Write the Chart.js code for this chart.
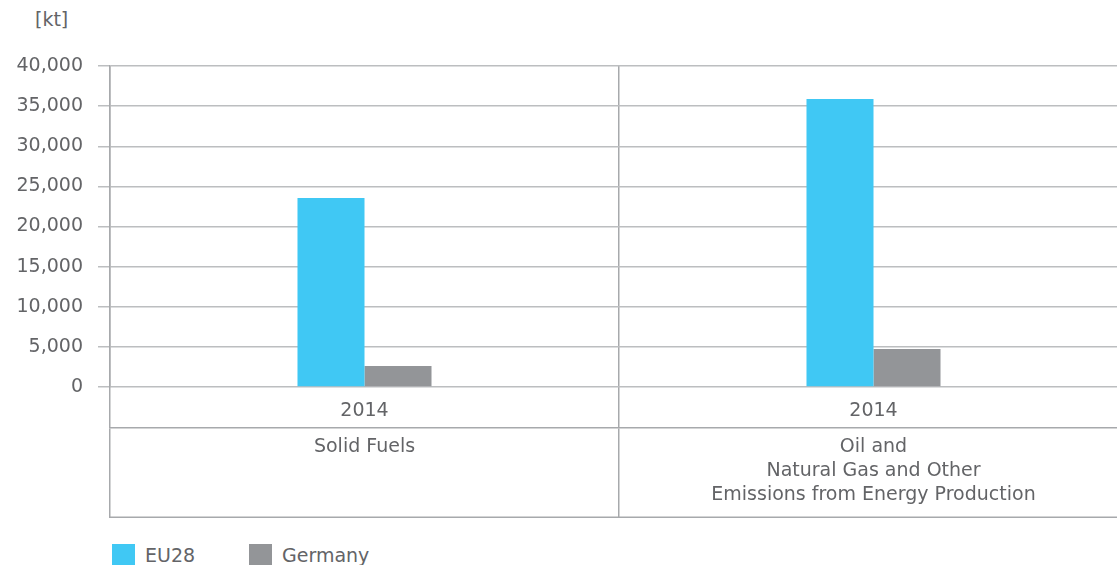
<!DOCTYPE html>
<html>
<head>
<meta charset="utf-8">
<script src="https://cdn.jsdelivr.net/npm/chart.js@4.4.1/dist/chart.umd.min.js"></script>
<style>
    html, body { margin: 0; padding: 0; overflow: hidden; background: #fff; }
    .wrap { position: relative; width: 1128px; height: 565px; font-family: 'DejaVu Sans', sans-serif; color: #636467; }
    .chart-box { position: absolute; left: 0; top: 0; width: 1128px; height: 520px; }
    .unit { position: absolute; left: 35px; top: 8px; font-size: 19px; }
    .legend { position: absolute; left: 112px; top: 544px; display: flex; font-size: 19px; }
    .legend-item { display: flex; align-items: center; width: 137px; height: 22px; }
    .legend-swatch { width: 23px; height: 22px; margin-right: 10px; flex: none; }
</style>
</head>
<body>
<div class="wrap">
    <div class="unit">[kt]</div>
    <div class="chart-box"><canvas id="chart"></canvas></div>
    <div class="legend" id="legend"></div>
</div>
<script>
const years = ['2014', '2014'];
const categories = [
    'Solid Fuels',
    ['Oil and', 'Natural Gas and Other', 'Emissions from Energy Production']
];
const eu28 = [23550, 35900];
const germany = [2620, 4740];
const yMin = 0, yMax = 40000, yStep = 5000;

const textColor = '#636467';
const gridColor = '#bcbec0';
const frameColor = '#a7a9ac';

Chart.defaults.font.family = "'DejaVu Sans', sans-serif";
Chart.defaults.font.size = 19;
Chart.defaults.color = textColor;

// closing line under the category row
const tableBottom = {
    id: 'tableBottom',
    afterDraw(chart) {
        const { ctx, chartArea, scales } = chart;
        ctx.save();
        ctx.strokeStyle = frameColor;
        ctx.lineWidth = 1.5;
        ctx.beginPath();
        ctx.moveTo(chartArea.left, scales.x2.bottom - 0.75);
        ctx.lineTo(chartArea.right, scales.x2.bottom - 0.75);
        ctx.stroke();
        ctx.restore();
    }
};

const chart = new Chart(document.getElementById('chart'), {
    type: 'bar',
    data: {
        labels: years,
        datasets: [
            { label: 'EU28', data: eu28, backgroundColor: '#40c8f4' },
            { label: 'Germany', data: germany, backgroundColor: '#939598' }
        ]
    },
    options: {
        responsive: true,
        maintainAspectRatio: false,
        animation: false,
        categoryPercentage: 0.2633,
        barPercentage: 1,
        layout: { padding: { top: 66, bottom: 2, left: 0, right: 0 } },
        plugins: { legend: { display: false }, tooltip: { enabled: false } },
        scales: {
            x: {
                weight: 0,
                offset: true,
                grid: { offset: true, color: frameColor, lineWidth: 1.5, drawTicks: true, tickLength: 41 },
                border: { display: false },
                ticks: { padding: -29, font: { size: 19, lineHeight: 1.27 } },
                afterFit: s => { s.height = 41; }
            },
            x2: {
                type: 'category',
                position: 'bottom',
                weight: 1,
                labels: categories,
                offset: true,
                grid: { offset: true, drawOnChartArea: false, color: frameColor, lineWidth: 1.5, tickLength: 90 },
                border: { display: true, color: frameColor, width: 1.5 },
                ticks: { padding: -83, font: { size: 19, lineHeight: 1.27 } },
                afterFit: s => { s.height = 90; }
            },
            y: {
                min: yMin,
                max: yMax,
                grid: { color: gridColor, lineWidth: 1.5, tickLength: 12 },
                border: { color: frameColor, width: 1.5 },
                ticks: {
                    stepSize: yStep,
                    padding: 15,
                    callback: v => v.toLocaleString('en-US')
                },
                afterFit: s => { s.width = 110; }
            }
        }
    },
    plugins: [tableBottom]
});

// legend built from the datasets
const legend = document.getElementById('legend');
chart.data.datasets.forEach(ds => {
    const item = document.createElement('div');
    item.className = 'legend-item';
    const sw = document.createElement('span');
    sw.className = 'legend-swatch';
    sw.style.background = ds.backgroundColor;
    const txt = document.createElement('span');
    txt.textContent = ds.label;
    item.appendChild(sw);
    item.appendChild(txt);
    legend.appendChild(item);
});
</script>
</body>
</html>
